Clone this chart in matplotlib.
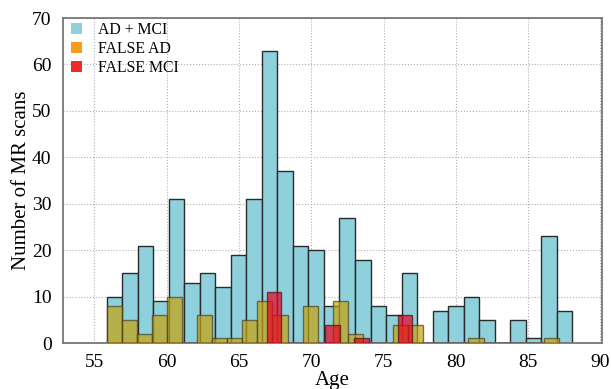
import numpy as np
import matplotlib
matplotlib.use("Agg")
import matplotlib.pyplot as plt

# counts per age bin (30 bins per series)
ad_mci = [10, 15, 21, 9, 31, 13, 15, 12, 19, 31, 63, 37, 21, 20, 8,
          27, 18, 8, 6, 15, 0, 7, 8, 10, 5, 0, 5, 1, 23, 7]
false_ad = [8, 5, 2, 6, 10, 0, 6, 1, 1, 5, 9, 6, 0, 8, 0,
            9, 2, 0, 0, 4, 4, 0, 0, 0, 1, 0, 0, 0, 0, 1]
false_mci = [0, 0, 0, 0, 0, 0, 0, 0, 0, 0, 0, 11, 0, 0, 0,
             4, 0, 1, 0, 0, 6, 0, 0, 0, 0, 0, 0, 0, 0, 0]

# age range covered by each series' histogram
ad_mci_range = (55.84, 88.06)
false_ad_range = (55.84, 87.13)
false_mci_range = (55.84, 86.05)

plt.rcParams['font.family'] = ['Liberation Serif', 'DejaVu Serif']

fig = plt.figure(figsize=(6.11, 3.89), dpi=100)
ax = fig.add_axes([0.1026, 0.118, 0.8824, 0.8356])


def draw(counts, rng, **kw):
    edges = np.linspace(rng[0], rng[1], len(counts) + 1)
    ax.hist(edges[:-1], bins=edges, weights=counts, **kw)


draw(ad_mci, ad_mci_range, color='#8fd0dd', edgecolor='#2a2a2a',
     linewidth=1.0, label='AD + MCI', zorder=2)
draw(false_ad, false_ad_range, color=(0.78, 0.64, 0.05), alpha=0.7,
     edgecolor='#4a4020', linewidth=1.0, label='FALSE AD', zorder=3)
draw(false_mci, false_mci_range, color=(0.92, 0.0, 0.13), alpha=0.7,
     edgecolor='#4a1010', linewidth=1.0, label='FALSE MCI', zorder=4)

ax.set_xlim(52.8, 90.1)
ax.set_ylim(0, 70)
ax.set_xticks(np.arange(55, 91, 5))
ax.set_yticks(np.arange(0, 71, 10))
ax.grid(True, linestyle=':', color='#b0b0b0', linewidth=0.8, zorder=0)
ax.set_axisbelow(True)
ax.tick_params(labelsize=14, length=0, pad=8)
for s in ax.spines.values():
    s.set_color('#777777')
    s.set_linewidth(1.3)

ax.set_xlabel('Age', fontsize=15, labelpad=0)
ax.set_ylabel('Number of MR scans', fontsize=15, labelpad=1)

leg = ax.legend(loc='upper left', bbox_to_anchor=(0.008, 1.0), frameon=False,
                fontsize=11.3, handlelength=0.7, handleheight=0.7,
                handletextpad=1.0, labelspacing=0.2, borderaxespad=0.05,
                borderpad=0.2)
for h, c in zip(leg.legend_handles, ['#8fd0dd', '#f99b1e', '#ee2a2a']):
    h.set_facecolor(c)
    h.set_edgecolor('none')
    h.set_alpha(1)

fig.savefig('out.png', dpi=100)
